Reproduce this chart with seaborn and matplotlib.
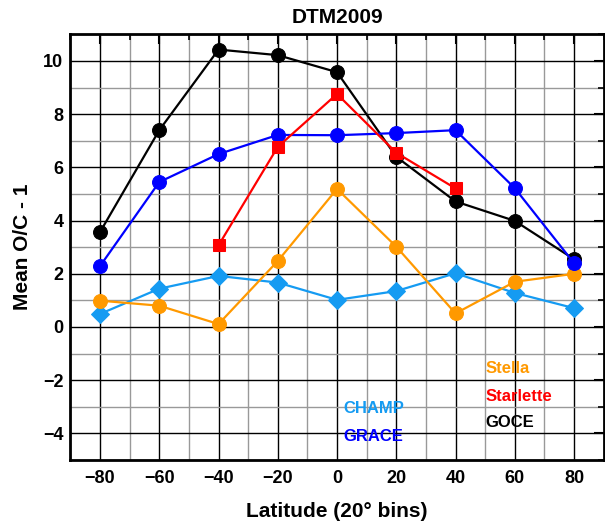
import matplotlib
matplotlib.use("Agg")
import matplotlib.pyplot as plt
import seaborn as sns
import numpy as np
from matplotlib.ticker import MultipleLocator

lat = [-80, -60, -40, -20, 0, 20, 40, 60, 80]
lat_starlette = [-40, -20, 0, 20, 40]
goce = [3.57, 7.4, 10.43, 10.22, 9.58, 6.4, 4.72, 3.99, 2.55]
grace = [2.29, 5.45, 6.5, 7.22, 7.21, 7.29, 7.4, 5.22, 2.4]
starlette = [3.07, 6.77, 8.76, 6.55, 5.21]
stella = [0.99, 0.8, 0.11, 2.48, 5.19, 3.02, 0.51, 1.7, 2.0]
champ = [0.49, 1.44, 1.92, 1.67, 1.02, 1.35, 2.02, 1.28, 0.71]

sns.set_theme(style="white")
plt.rcParams['font.family'] = ['Liberation Sans', 'DejaVu Sans']
plt.rcParams['font.weight'] = 'bold'
plt.rcParams['text.color'] = 'black'
plt.rcParams['axes.labelcolor'] = 'black'
plt.rcParams['xtick.color'] = 'black'
plt.rcParams['ytick.color'] = 'black'

fig = plt.figure(figsize=(6.05, 5.26), dpi=100)
ax = fig.add_axes([0.1164, 0.1255, 0.8813, 0.8091])

ax.set_xlim(-90, 90)
ax.set_ylim(-5, 11)
ax.xaxis.set_major_locator(MultipleLocator(20))
ax.xaxis.set_minor_locator(MultipleLocator(10))
ax.yaxis.set_major_locator(MultipleLocator(2))
ax.yaxis.set_minor_locator(MultipleLocator(1))
ax.set_xticks([-80, -60, -40, -20, 0, 20, 40, 60, 80])
ax.set_yticks([-4, -2, 0, 2, 4, 6, 8, 10])
ax.grid(which='major', color='black', linewidth=1.0)
ax.grid(which='minor', color='#999999', linewidth=1.0)
ax.set_axisbelow(True)

lw = 1.6
sns.lineplot(x=lat, y=champ, ax=ax, color='#159BF2', marker='D', markersize=9,
             markeredgecolor='#159BF2', linewidth=lw, zorder=3)
sns.lineplot(x=lat, y=stella, ax=ax, color='#FF9900', marker='o', markersize=10,
             markeredgecolor='#FF9900', linewidth=lw, zorder=4)
sns.lineplot(x=lat, y=goce, ax=ax, color='black', marker='o', markersize=10,
             markeredgecolor='black', linewidth=lw, zorder=5)
sns.lineplot(x=lat, y=grace, ax=ax, color='#0000FF', marker='o', markersize=10,
             markeredgecolor='#0000FF', linewidth=lw, zorder=6)
sns.lineplot(x=lat_starlette, y=starlette, ax=ax, color='#FF0000', marker='s', markersize=8,
             markeredgecolor='#FF0000', linewidth=lw, zorder=7)

tkw = dict(fontsize=12, fontweight='bold', va='center', ha='left')
ax.text(50, -1.55, 'Stella', color='#FF9900', **tkw)
ax.text(50, -2.6, 'Starlette', color='#FF0000', **tkw)
ax.text(50, -3.6, 'GOCE', color='black', **tkw)
ax.text(2, -3.08, 'CHAMP', color='#159BF2', **tkw)
ax.text(2, -4.13, 'GRACE', color='#0000FF', **tkw)

ax.tick_params(which='major', direction='in', length=7, width=1.5, top=True, right=True,
               labelsize=13, colors='black', pad=7)
ax.tick_params(axis='y', which='major', pad=5)
ax.tick_params(which='minor', direction='in', length=4, width=1.2, top=True, right=True)
for lab in ax.get_xticklabels() + ax.get_yticklabels():
    lab.set_fontweight('bold')
for s in ax.spines.values():
    s.set_linewidth(2)
    s.set_color('black')

ax.set_title('DTM2009', fontsize=15, fontweight='bold', pad=8, color='black')
ax.set_xlabel('Latitude (20° bins)', fontsize=15, fontweight='bold', labelpad=11)
ax.set_ylabel('Mean O/C - 1', fontsize=15, fontweight='bold', labelpad=8)

fig.savefig('out.png', dpi=100)
